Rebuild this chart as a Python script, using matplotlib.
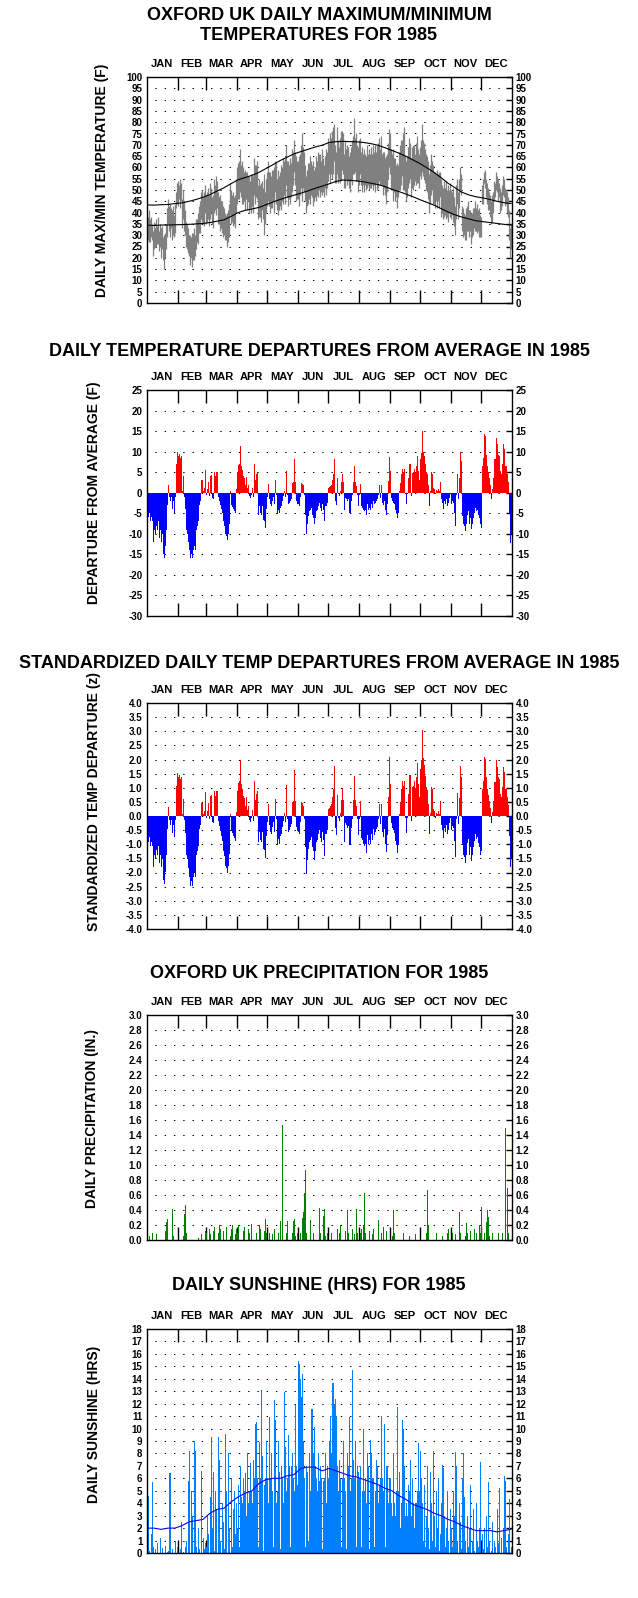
import numpy as np
import matplotlib.pyplot as plt
from matplotlib.ticker import FormatStrFormatter

plt.rcParams['font.family'] = ['Liberation Sans', 'DejaVu Sans']
plt.rcParams['font.weight'] = 'bold'

##### Data (one row per month) #####

month_names = ['JAN', 'FEB', 'MAR', 'APR', 'MAY', 'JUN', 'JUL', 'AUG', 'SEP', 'OCT', 'NOV', 'DEC']
month_lengths = [31, 28, 31, 30, 31, 30, 31, 31, 30, 31, 30, 31]

# daily maximum temperature (F)
tmax = [
    40, 38, 41, 37, 38, 35, 32, 36, 33, 37, 34, 38, 32, 35, 33, 34, 29, 30, 31, 35, 42, 46, 43, 44, 42, 41, 43, 39, 44, 49, 53,
    54, 52, 55, 53, 46, 50, 45, 41, 36, 35, 33, 30, 30, 29, 31, 31, 33, 30, 37, 37, 40, 43, 45, 49, 50, 47, 49, 52,
    48, 49, 51, 48, 53, 51, 47, 48, 55, 52, 56, 54, 49, 47, 48, 45, 45, 43, 42, 40, 39, 40, 41, 44, 53, 50, 48, 49, 47, 48, 55,
    60, 62, 63, 68, 61, 63, 60, 58, 59, 58, 58, 56, 56, 54, 57, 57, 56, 64, 61, 61, 63, 52, 55, 52, 53, 54, 51, 57, 49, 55,
    58, 63, 58, 58, 56, 59, 59, 60, 63, 62, 55, 59, 56, 58, 61, 60, 64, 63, 64, 70, 63, 63, 61, 64, 62, 68, 67, 72, 67, 65, 63,
    63, 65, 66, 70, 75, 69, 67, 61, 56, 59, 62, 62, 65, 63, 61, 63, 59, 60, 65, 63, 67, 66, 66, 63, 68, 64, 61, 65, 68, 67,
    73, 71, 75, 73, 76, 78, 79, 70, 67, 78, 72, 69, 73, 76, 76, 75, 66, 72, 68, 70, 69, 65, 67, 69, 72, 74, 82, 73, 75, 70, 69,
    72, 73, 67, 69, 66, 68, 66, 65, 70, 66, 68, 66, 69, 66, 70, 67, 70, 67, 70, 71, 73, 68, 74, 66, 67, 67, 64, 65, 66, 71, 77,
    75, 68, 66, 68, 64, 64, 61, 62, 61, 67, 70, 72, 72, 75, 78, 65, 63, 65, 69, 73, 71, 64, 69, 70, 70, 66, 71, 74, 68, 66,
    69, 72, 79, 72, 71, 68, 66, 65, 63, 57, 61, 66, 63, 61, 58, 58, 57, 59, 57, 58, 58, 55, 52, 51, 54, 51, 54, 50, 52, 50, 53,
    50, 49, 51, 47, 43, 52, 55, 49, 55, 60, 57, 43, 42, 40, 39, 42, 43, 45, 41, 41, 40, 40, 42, 42, 45, 42, 44, 41, 42, 39,
    38, 52, 55, 58, 59, 55, 53, 51, 49, 48, 45, 48, 49, 54, 53, 58, 56, 55, 53, 51, 49, 52, 56, 55, 51, 50, 49, 47, 41, 33, 35,
]

# daily minimum temperature (F)
tmin = [
    31, 28, 27, 27, 29, 28, 21, 24, 25, 25, 26, 26, 23, 25, 20, 24, 19, 15, 20, 24, 29, 35, 32, 29, 33, 28, 30, 29, 31, 42, 44,
    43, 46, 42, 45, 33, 37, 32, 30, 25, 24, 22, 21, 17, 20, 16, 19, 19, 21, 24, 27, 26, 31, 31, 37, 36, 35, 34, 40,
    35, 36, 37, 34, 37, 40, 35, 33, 40, 41, 39, 42, 35, 35, 32, 33, 31, 29, 30, 28, 28, 25, 27, 29, 39, 35, 36, 34, 35, 33, 40,
    44, 46, 46, 49, 47, 44, 44, 45, 41, 46, 41, 45, 40, 42, 40, 43, 40, 48, 44, 47, 46, 37, 38, 38, 36, 41, 37, 30, 35, 40,
    43, 45, 43, 40, 42, 42, 45, 40, 49, 44, 41, 39, 41, 43, 41, 45, 44, 48, 44, 52, 47, 43, 46, 44, 47, 49, 52, 58, 52, 45, 46,
    46, 43, 48, 51, 45, 51, 49, 45, 40, 43, 44, 46, 44, 48, 47, 43, 45, 47, 45, 48, 47, 50, 47, 49, 48, 49, 47, 51, 48, 51,
    54, 57, 53, 57, 55, 57, 63, 53, 53, 57, 53, 55, 53, 55, 59, 57, 51, 51, 55, 52, 54, 51, 49, 54, 52, 57, 57, 58, 54, 54, 49,
    52, 57, 52, 49, 52, 49, 52, 50, 51, 52, 50, 51, 51, 52, 50, 52, 49, 53, 50, 51, 54, 52, 52, 52, 48, 51, 48, 44, 49, 55, 60,
    57, 50, 50, 45, 49, 45, 47, 42, 47, 50, 50, 52, 56, 50, 50, 49, 45, 47, 51, 53, 55, 47, 51, 50, 52, 54, 52, 53, 53, 51,
    56, 55, 58, 56, 55, 53, 50, 49, 46, 40, 44, 48, 50, 44, 44, 42, 45, 42, 45, 42, 47, 38, 40, 37, 38, 39, 37, 38, 36, 40, 38,
    37, 39, 36, 34, 30, 37, 44, 37, 42, 49, 48, 32, 29, 30, 28, 28, 32, 32, 29, 32, 26, 29, 30, 33, 32, 32, 31, 32, 29, 29,
    29, 44, 44, 53, 51, 47, 44, 41, 41, 38, 35, 36, 40, 45, 47, 50, 49, 45, 47, 40, 41, 43, 48, 47, 43, 44, 40, 38, 28, 20, 24,
]

# long-term average max / min (F), read every 7th day
normal_days = list(range(0, 365, 7))
normal_max = [43.4, 43.3, 43.5, 43.6, 44.0, 44.3, 45.0, 45.8, 46.8, 48.0,
              49.5, 51.0, 52.8, 54.5, 55.5, 56.5, 57.8, 59.5, 61.2, 63.0,
              64.5, 66.0, 67.0, 68.0, 69.0, 69.8, 71.0, 71.4, 71.5, 71.4,
              71.3, 71.0, 70.5, 69.8, 68.7, 67.5, 66.3, 64.9, 63.3, 61.7,
              59.8, 57.8, 55.5, 53.0, 51.0, 49.0, 47.8, 47.0, 46.5, 45.8,
              45.0, 44.4, 44.0]
normal_min = [34.5, 34.3, 34.5, 34.5, 34.6, 34.7, 34.8, 35.0, 35.2, 35.6,
              36.2, 36.8, 38.3, 40.0, 41.0, 41.6, 42.3, 43.5, 44.7, 45.8,
              46.8, 47.7, 48.6, 49.6, 50.7, 51.7, 52.7, 53.8, 54.4, 54.3,
              54.0, 53.6, 53.0, 52.4, 51.5, 50.3, 49.3, 48.2, 47.0, 45.7,
              44.5, 43.3, 41.8, 40.3, 39.0, 38.0, 37.2, 36.4, 36.0, 35.6,
              35.2, 34.8, 34.5]

# daily departure from average (F)
departure = [
    -4, -6, -5, -7, -6, -7, -12, -9, -10, -8, -9, -7, -11, -9, -12, -10, -15, -16, -13, -9, -3, 2, -1, -2, -1, -4, -2, -5, -1, 7, 10,
    9, 9.5, 8.5, 9, 0.5, 4, -1, -4, -9, -10, -12, -14, -16, -15, -16, -14, -13, -14, -9, -8, -7, -3, -2, 3, 3, 0.5, 1.2, 5.6,
    -0.5, 1, 2.6, -0.7, 4, 4.2, -1.2, -1.5, 5, 4, 5, 5, -1, -2, -3, -4, -5, -7, -8, -10, -10.5, -11.6, -10, -7.7, 0.5, -3, -3.5, -4, -4.5, -5, 0.8,
    5, 6.7, 7, 11.3, 6.5, 5.5, 4, 3.6, 2, 3.8, 1.2, 2, -0.8, -1.2, -0.5, 1.2, -1, 7, 3.2, 4.5, 5, -5.3, -3.3, -4.9, -5.3, -3.3, -6.7, -6.9, -8.5, -4,
    -1, 2.2, -1.6, -2.8, -3.2, -2, -1, -2.8, 3, -0.5, -5.1, -4.1, -4.9, -3.6, -3.2, -2, -0.8, 0.5, -1, 5.4, -0.5, -2.8, -2.4, -2, -1.5, 2.4, 2.6, 8.1, 2.6, -2, -2.7,
    -2.8, -3.2, -1, 2.4, 2.2, 1.8, -0.5, -5.3, -10, -7.7, -5.7, -4.5, -4.1, -3.6, -5.3, -6.1, -7.7, -6.1, -4.5, -4.1, -3.2, -2.4, -3.8, -4.5, -2.8, -4.1, -6.9, -3.2, -3.2, -2.4,
    1.2, 1.4, 1.6, 2, 3.2, 4.5, 8.3, -2, -3.1, 3.5, -0.4, -0.8, 0.5, 2.7, 4.6, 2.7, -4.3, -1.2, -1.5, -2, -1.6, -4.9, -4.9, -2, -0.5, 2.7, 6.6, 2.7, 1.6, -0.5, -3.2,
    -0.5, 2.2, -3.2, -3.6, -4.1, -4.5, -4.1, -5.5, -2.8, -4.1, -3.6, -4.1, -2.7, -3.6, -2, -2.8, -2.4, -2, -1.6, -0.5, 1.8, -1.2, 1.8, -2.4, -3.1, -2, -4.1, -5.3, -2.8, 2.8, 8.8,
    5.4, -1.2, -2, -2.4, -2.8, -4.1, -4.9, -6.2, -4.9, 0.4, 2.4, 4.5, 5.8, 5, 5.8, -0.4, -2.8, -0.4, 3.6, 6.9, 6.9, -0.8, 4.9, 5, 5.8, 4.7, 6.5, 8.9, 5.3, 3.1,
    8.1, 9.7, 15, 10, 8.9, 7, 5, 4.5, 2, -3.2, 0.5, 5, 4.6, 1.2, 0.8, -0.4, 0.6, 0.4, 0.8, 0.4, 2.6, -1.6, -2.4, -3.9, -2, -2.8, -1.6, -3.2, -2.4, -1.2, -0.4,
    -2.8, -2, -2.4, -5, -8.1, -0.5, 4.6, -1.6, 3.6, 9.9, 7.7, -5.7, -7.7, -8.1, -9.3, -7.7, -5.3, -4.5, -7.7, -6.1, -8.9, -7.7, -6.1, -4.9, -3.6, -4.5, -4.1, -5.3, -6.1, -7.7,
    -8.5, 6.6, 8.5, 14.3, 13.8, 9.3, 6.5, 5, 3.6, 1.9, -1.6, 1, 3.6, 8.3, 8.3, 13.4, 11.8, 9.3, 8.9, 5.3, 4.5, 6.9, 11.8, 10.7, 6.5, 6.6, 4.5, 2.6, -4.9, -12.3, -10,
]

# spread of daily mean temperature for each month (F), from departure / standardized ratio
temp_sd_by_month = [6.6, 6.5, 5.7, 5.7, 5.0, 4.9, 4.7, 4.2, 4.7, 4.9, 5.6, 6.8]

# daily precipitation (in.)
precip = [
    0, 0, 0.05, 0, 0, 0.1, 0, 0, 0, 0.08, 0, 0, 0, 0, 0, 0, 0, 0, 0.12, 0.24, 0.28, 0, 0, 0, 0, 0.41, 0.06, 0, 0, 0, 0,
    0, 0, 0, 0, 0, 0.05, 0.35, 0.47, 0.1, 0, 0, 0, 0, 0, 0, 0, 0, 0, 0, 0, 0.03, 0, 0, 0.08, 0, 0, 0, 0.12,
    0.1, 0, 0, 0.15, 0.08, 0, 0, 0.12, 0.18, 0, 0, 0, 0.1, 0.2, 0.15, 0, 0, 0.12, 0, 0, 0.18, 0, 0, 0, 0.05, 0.15, 0.2, 0, 0, 0.08, 0.15,
    0.1, 0.2, 0, 0, 0, 0, 0.12, 0.18, 0, 0, 0, 0.15, 0.1, 0, 0.22, 0, 0, 0, 0, 0.1, 0, 0, 0.2, 0.15, 0, 0, 0, 0.12, 0.28, 0.1,
    0, 0, 0.1, 0, 0, 0.08, 0, 0.15, 0, 0, 0, 0.1, 0, 0.25, 0, 1.53, 0, 0, 0, 0.1, 0.25, 0, 0, 0, 0, 0.1, 0.25, 0.28, 0.05, 0, 0.1,
    0, 0, 0.1, 0, 0.29, 0.37, 0.63, 0.93, 0.1, 0, 0, 0, 0.27, 0, 0, 0.1, 0, 0, 0, 0, 0, 0.43, 0.1, 0, 0, 0.32, 0.41, 0.05, 0, 0.1,
    0, 0, 0, 0.1, 0, 0, 0, 0, 0, 0.15, 0, 0.1, 0.2, 0, 0, 0, 0, 0.12, 0, 0.4, 0.1, 0, 0, 0, 0.15, 0, 0.08, 0, 0.41, 0.1, 0,
    0, 0.1, 0.15, 0, 0.2, 0.63, 0.1, 0, 0, 0, 0.12, 0, 0, 0.08, 0.15, 0, 0, 0, 0, 0.27, 0, 0, 0.1, 0, 0.18, 0, 0, 0.12, 0, 0, 0,
    0, 0, 0.05, 0.4, 0.1, 0, 0, 0, 0, 0, 0, 0, 0, 0.1, 0, 0, 0, 0, 0, 0.05, 0, 0, 0, 0, 0, 0.08, 0, 0, 0, 0,
    0, 0, 0, 0, 0, 0, 0.1, 0.67, 0.2, 0, 0, 0, 0, 0, 0, 0, 0.1, 0, 0, 0, 0, 0, 0.05, 0, 0, 0, 0, 0.1, 0.15, 0, 0,
    0, 0.1, 0, 0, 0.08, 0, 0, 0, 0.37, 0.1, 0, 0, 0, 0, 0.05, 0.23, 0.1, 0, 0, 0.12, 0, 0, 0, 0.15, 0, 0.1, 0, 0, 0.2, 0.1,
    0.44, 0, 0, 0.1, 0, 0.24, 0.4, 0.31, 0.05, 0, 0, 0.1, 0, 0, 0, 0, 0, 0.1, 0, 0, 0, 0.1, 0, 0, 1.49, 0, 0.69, 0.1, 0, 0, 0,
]

# daily sunshine (hrs)
sunshine = [
    4.5, 4.6, 0.2, 0, 1.5, 5.7, 0.5, 0, 0.3, 0, 0.8, 0, 0, 1.2, 0, 0.4, 0, 0, 0.6, 0, 0.1, 0.2, 6.4, 6.4, 0, 0.3, 0, 0, 1.0, 0, 0.5,
    0, 0, 0.3, 2.5, 0, 0.1, 0, 0.5, 1.0, 0, 5.8, 8.2, 0, 5.0, 3, 0, 9.0, 8.2, 0.5, 0, 2, 0.3, 0, 6.6, 0, 1.2, 0.3, 0.8,
    0.5, 3, 1.5, 0, 4.5, 9.3, 2.0, 6.5, 0.2, 5, 3.5, 0, 9.3, 7.5, 1, 0, 4, 2.5, 0.3, 9.6, 5, 0, 8.0, 2, 0, 6, 0.5, 3.5, 5, 1.5, 4,
    2, 5.5, 0.5, 7, 4.5, 4, 6, 5, 6.4, 3, 8, 4, 5, 7.2, 5, 4, 7.5, 6, 10.4, 10.5, 6, 0.5, 8.9, 6, 13.1, 7.8, 0.2, 5.5, 6, 9,
    6, 4, 10.9, 6, 8, 5, 0.5, 12.3, 10.7, 4, 5, 9, 6.5, 0.3, 7, 6, 4, 12.9, 8.5, 5, 6, 9.5, 7, 0.5, 7, 8, 6, 5, 11.9, 7, 5.5,
    15.4, 15.2, 14, 12.5, 14.4, 9, 6, 0.5, 7, 6.5, 1, 8, 5, 11.6, 11.6, 8, 10.1, 7, 6, 5, 8, 5.8, 7, 6, 0.3, 5.8, 6, 8, 4, 7,
    6, 9, 11, 8, 13.7, 13.7, 12, 12.4, 11, 7, 5, 7.5, 6, 0.5, 6, 9, 6, 5, 0.3, 8, 7, 10.9, 5, 6, 14.7, 7.5, 6, 9, 0.5, 7, 6.5,
    6, 7, 0.5, 5, 10, 5, 6, 4, 8, 7, 0.3, 9.1, 8, 6, 6, 0.5, 5, 7.5, 7, 4, 5.5, 6, 11, 6, 5, 10.4, 0.5, 7, 7, 4, 6,
    6, 4, 3, 8, 4, 3, 5, 11.7, 5, 6.5, 2, 4, 10.7, 10, 7, 3, 4, 3, 5.5, 5, 7.5, 3, 6, 4, 2, 4, 4, 5, 8.8, 5,
    8.2, 6, 4, 1, 5.5, 0.5, 3, 7, 2, 0.3, 6.5, 4, 1, 8.2, 3, 0.5, 5, 2, 6, 0.2, 1.5, 4, 7.1, 6.8, 3, 0.5, 2, 5, 1, 0, 3.5,
    2, 0.5, 5, 3, 8.1, 7, 1, 0, 4, 2.5, 0.3, 6, 8.0, 4.5, 1, 0, 3, 0.5, 2, 5.5, 0, 1, 3.5, 0.2, 0, 4, 1, 0.5, 2, 7.3,
    0, 1.5, 0.3, 2, 0, 3, 0.5, 5.7, 1, 0, 0.2, 2.5, 0, 1, 0.5, 0, 3.5, 0.8, 5.2, 0, 1.2, 0, 2, 6.2, 5.8, 0.5, 0, 1.5, 4.3, 0, 0.5,
]

# long-term average sunshine (hrs), read every 7th day
normal_sun = [2.0, 2.0, 1.9, 2.0, 2.0, 2.2, 2.5, 2.6, 2.7, 3.2,
              3.5, 3.6, 4.1, 4.5, 4.8, 5.0, 5.6, 5.9, 6.0, 6.0,
              6.2, 6.3, 6.8, 6.9, 6.9, 6.6, 6.8, 6.6, 6.4, 6.2,
              6.1, 5.9, 5.7, 5.5, 5.2, 5.0, 4.6, 4.3, 3.9, 3.7,
              3.5, 3.2, 3.0, 2.7, 2.5, 2.2, 2.0, 1.8, 1.8, 1.8,
              1.7, 1.8, 1.9]

##### Derived #####
days = np.arange(365)
month_starts = np.cumsum([0] + month_lengths)
month_of_day = np.repeat(np.arange(12), month_lengths)
departure = np.array(departure, dtype=float)
std_departure = departure / np.array(temp_sd_by_month)[month_of_day]

##### Layout (pixels of the 638x1598 image) #####
W, H = 638, 1598
fig = plt.figure(figsize=(W / 100, H / 100), dpi=100)


def add_panel(top, bottom):
    return fig.add_axes([146.5 / W, 1 - bottom / H, 365 / W, (bottom - top) / H])


def style_panel(ax, ymin, ymax, step, fmt):
    ax.set_xlim(0, 365)
    ax.set_ylim(ymin, ymax)
    ax.set_yticks(np.arange(ymin, ymax + step / 2, step))
    ax.yaxis.set_major_formatter(FormatStrFormatter(fmt))
    ax.tick_params(axis='y', left=False, right=True, direction='in', length=4, width=1,
                   labelleft=True, labelright=True, labelsize=7, pad=3)
    ax.set_xticks(month_starts[1:12])
    ax.tick_params(axis='x', top=True, bottom=True, direction='in', length=9.4, width=1,
                   labelbottom=False, labeltop=False)
    ax.grid(axis='y', color='black', linestyle=(1.3, (1.3, 7.6)), linewidth=0.75)
    ax.set_axisbelow(True)
    for sp in ax.spines.values():
        sp.set_linewidth(1.0)
    for i, name in enumerate(month_names):
        mid = (month_starts[i] + month_starts[i + 1]) / 2
        ax.annotate(name, xy=(mid, 1), xycoords=('data', 'axes fraction'),
                    xytext=(0, 13 * 0.72), textcoords='offset points',
                    ha='center', va='center', fontsize=8)


def title(text, y, size=13):
    fig.text(0.5, 1 - y / H, text, ha='center', va='center', fontsize=size)


def ylabel(text, x, y):
    fig.text(x / W, 1 - y / H, text, rotation=90, ha='center', va='center', fontsize=10)


# Panel 1: daily max/min temperatures
ax1 = add_panel(77, 303)
ax1.vlines(days + 0.5, tmin, tmax, color='#808080', linewidth=0.9)
ax1.plot(np.array(normal_days) + 0.5, normal_max, color='black', linewidth=0.8)
ax1.plot(np.array(normal_days) + 0.5, normal_min, color='black', linewidth=0.8)
style_panel(ax1, 0, 100, 5, '%d')
title('OXFORD UK DAILY MAXIMUM/MINIMUM', 16)
title('TEMPERATURES FOR 1985', 36)
ylabel('DAILY MAX/MIN TEMPERATURE (F)', 102, 180)

# Panel 2: departures
ax2 = add_panel(390, 616)
colors = np.where(departure >= 0, '#FF0000', '#0000FF')
ax2.bar(days, departure, width=1, align='edge', color=colors, linewidth=0, antialiased=False)
style_panel(ax2, -30, 25, 5, '%d')
title('DAILY TEMPERATURE DEPARTURES FROM AVERAGE IN 1985', 351)
ylabel('DEPARTURE FROM AVERAGE (F)', 94, 493)

# Panel 3: standardized departures
ax3 = add_panel(703, 929)
colors = np.where(std_departure >= 0, '#FF0000', '#0000FF')
ax3.bar(days, std_departure, width=1, align='edge', color=colors, linewidth=0, antialiased=False)
style_panel(ax3, -4.0, 4.0, 0.5, '%.1f')
title('STANDARDIZED DAILY TEMP DEPARTURES FROM AVERAGE IN 1985', 664)
ylabel('STANDARDIZED TEMP DEPARTURE (z)', 94, 801)

# Panel 4: precipitation
ax4 = add_panel(1015, 1240)
ax4.bar(days, precip, width=1, align='edge', color='#008000', linewidth=0, antialiased=False)
style_panel(ax4, 0.0, 3.0, 0.2, '%.1f')
title('OXFORD UK PRECIPITATION FOR 1985', 973)
ylabel('DAILY PRECIPITATION (IN.)', 92, 1118)

# Panel 5: sunshine
ax5 = add_panel(1329, 1553)
ax5.bar(days, sunshine, width=1, align='edge', color='#0080FF', linewidth=0, antialiased=False)
ax5.plot(np.array(normal_days) + 0.5, normal_sun, color='#0000FF', linewidth=0.8)
style_panel(ax5, 0, 18, 1, '%d')
title('DAILY SUNSHINE (HRS) FOR 1985', 1285)
ylabel('DAILY SUNSHINE (HRS)', 94, 1424)

fig.savefig('out.png', dpi=100)
